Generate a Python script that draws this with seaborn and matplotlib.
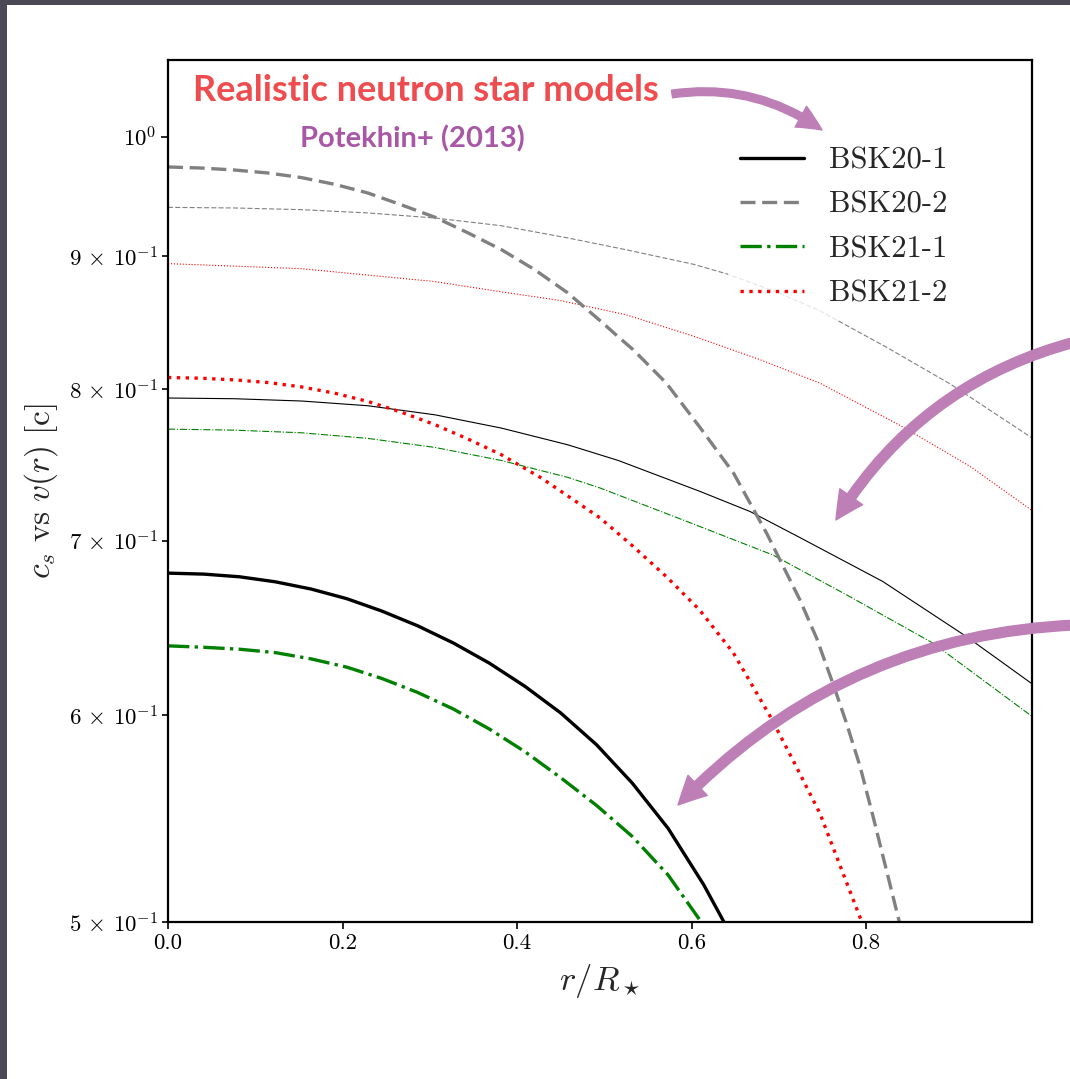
import numpy as np
import pandas as pd
import matplotlib
matplotlib.use("Agg")
import matplotlib.pyplot as plt
import seaborn as sns
from matplotlib.patches import FancyArrowPatch, Rectangle
from matplotlib.transforms import IdentityTransform
from matplotlib.ticker import FuncFormatter

# ---- sound-speed profiles (r / R_star, c_s in units of c) ----
# thick curves
r_bsk20_1 = [0.0, 0.041, 0.082, 0.123, 0.164, 0.205, 0.245, 0.286, 0.327, 0.368,
             0.409, 0.450, 0.491, 0.532, 0.573, 0.614, 0.637]
cs_bsk20_1 = [0.6803, 0.6797, 0.6781, 0.6751, 0.6708, 0.6651, 0.6579, 0.6494, 0.6396, 0.6284,
              0.6156, 0.6013, 0.5847, 0.5652, 0.5431, 0.5166, 0.5000]

r_bsk20_2 = [0.0, 0.038, 0.076, 0.115, 0.153, 0.191, 0.229, 0.267, 0.306, 0.344,
             0.382, 0.420, 0.458, 0.496, 0.516, 0.533, 0.571, 0.609, 0.648, 0.686,
             0.724, 0.743, 0.762, 0.777, 0.793, 0.808, 0.838]
cs_bsk20_2 = [0.9736, 0.9727, 0.9710, 0.9684, 0.9645, 0.9588, 0.9515, 0.9417, 0.9313, 0.9185,
              0.9051, 0.8893, 0.8712, 0.8496, 0.8380, 0.8286, 0.8045, 0.7741, 0.7431, 0.7046,
              0.6645, 0.6426, 0.6170, 0.5965, 0.5736, 0.5486, 0.5000]

r_bsk21_1 = [0.0, 0.041, 0.082, 0.123, 0.164, 0.205, 0.245, 0.286, 0.327, 0.368,
             0.409, 0.450, 0.491, 0.532, 0.573, 0.611]
cs_bsk21_1 = [0.6380, 0.6372, 0.6361, 0.6342, 0.6307, 0.6261, 0.6199, 0.6123, 0.6034, 0.5929,
              0.5811, 0.5679, 0.5542, 0.5392, 0.5212, 0.5000]

r_bsk21_2 = [0.0, 0.038, 0.076, 0.115, 0.153, 0.191, 0.229, 0.267, 0.306, 0.344,
             0.382, 0.428, 0.495, 0.533, 0.571, 0.609, 0.648, 0.690, 0.716, 0.747, 0.795]
cs_bsk21_2 = [0.8085, 0.8080, 0.8068, 0.8049, 0.8018, 0.7974, 0.7916, 0.7842, 0.7755, 0.7657,
              0.7552, 0.7398, 0.7143, 0.6965, 0.6782, 0.6586, 0.6339, 0.5995, 0.5769, 0.5503, 0.5000]

# thin curves
r_bsk20_1_b = [0.0, 0.076, 0.153, 0.229, 0.306, 0.382, 0.458, 0.516, 0.609, 0.667,
               0.724, 0.819, 0.915, 0.99]
cs_bsk20_1_b = [0.7940, 0.7935, 0.7919, 0.7886, 0.7823, 0.7732, 0.7619, 0.7514, 0.7313, 0.7183,
                0.7020, 0.6753, 0.6432, 0.6170]

r_bsk20_2_b = [0.0, 0.076, 0.153, 0.229, 0.306, 0.382, 0.458, 0.525, 0.602, 0.640,
               0.697, 0.747, 0.823, 0.896, 0.99]
cs_bsk20_2_b = [0.9395, 0.9390, 0.9376, 0.9349, 0.9307, 0.9244, 0.9145, 0.9050, 0.8935, 0.8860,
                0.8720, 0.8575, 0.8305, 0.8040, 0.7665]

r_bsk21_1_b = [0.0, 0.076, 0.153, 0.229, 0.306, 0.382, 0.458, 0.495, 0.590, 0.693,
               0.781, 0.877, 0.99]
cs_bsk21_1_b = [0.7725, 0.7718, 0.7700, 0.7662, 0.7601, 0.7514, 0.7403, 0.7334, 0.7130, 0.6913,
                0.6664, 0.6394, 0.5995]

r_bsk21_2_b = [0.0, 0.153, 0.305, 0.382, 0.449, 0.525, 0.602, 0.678, 0.747, 0.842,
               0.919, 0.99]
cs_bsk21_2_b = [0.894, 0.890, 0.880, 0.872, 0.8654, 0.8545, 0.8386, 0.8214, 0.8045, 0.774,
                0.7475, 0.719]

labels = ["BSK20-1", "BSK20-2", "BSK21-1", "BSK21-2"]
colors = ["black", "grey", "green", "red"]
styles = ["-", (0, (4.5, 2.0)), "-.", ":"]

thick = [(r_bsk20_1, cs_bsk20_1), (r_bsk20_2, cs_bsk20_2),
         (r_bsk21_1, cs_bsk21_1), (r_bsk21_2, cs_bsk21_2)]
thin = [(r_bsk20_1_b, cs_bsk20_1_b), (r_bsk20_2_b, cs_bsk20_2_b),
        (r_bsk21_1_b, cs_bsk21_1_b), (r_bsk21_2_b, cs_bsk21_2_b)]

sns.set_theme(style="ticks")
plt.rcParams.update({
    "font.family": "serif",
    "font.serif": ["cmr10", "DejaVu Serif"],
    "mathtext.fontset": "cm",
    "axes.formatter.use_mathtext": True,
    "axes.unicode_minus": False,
    "axes.linewidth": 1.6,
    "axes.edgecolor": "black",
    "xtick.color": "black",
    "ytick.color": "black",
})

W, H = 1070, 1079
fig = plt.figure(figsize=(W / 100, H / 100), dpi=100, facecolor="white")
ax = fig.add_axes([168 / W, 1 - 922 / H, (1032 - 168) / W, (922 - 60) / H])

for (r, cs), col, ls in zip(thin, colors, styles):
    df = pd.DataFrame({"r": r, "cs": cs})
    sns.lineplot(data=df, x="r", y="cs", ax=ax, color=col, linestyle=ls,
                 linewidth=0.8, estimator=None, sort=False)

for (r, cs), lab, col, ls in zip(thick, labels, colors, styles):
    df = pd.DataFrame({"r": r, "cs": cs})
    sns.lineplot(data=df, x="r", y="cs", ax=ax, color=col, linestyle=ls,
                 linewidth=2.4, estimator=None, sort=False, label=lab)

ax.set_yscale("log")
ax.set_ylim(0.5, 1.07)
ax.set_xlim(0.0, 0.99)
ax.set_xticks([0.0, 0.2, 0.4, 0.6, 0.8])
ax.set_xticklabels(["0.0", "0.2", "0.4", "0.6", "0.8"])


def sci_label(v, pos=None):
    e = int(np.floor(np.log10(v) + 1e-9))
    m = int(round(v / 10.0 ** e))
    if m == 1:
        return rf"$10^{{{e}}}$"
    return rf"${m}\,\times\,10^{{{e}}}$"


ax.yaxis.set_major_formatter(FuncFormatter(sci_label))
ax.yaxis.set_minor_formatter(FuncFormatter(sci_label))
ax.tick_params(axis="both", which="both", labelsize=16.5, direction="out", width=1.2)
ax.tick_params(axis="both", which="major", length=5)
ax.tick_params(axis="y", which="minor", length=4)

ax.set_xlabel(r"$r/R_\star$", fontsize=25, labelpad=6)
ax.set_ylabel(r"$c_s\ \mathrm{vs}\ v(r)\ [\mathrm{c}]$", fontsize=24, labelpad=6)

leg = ax.legend(loc="upper left", bbox_to_anchor=((728 - 168) / 864, 0.913),
                frameon=True, framealpha=0.8, facecolor="white", edgecolor="none",
                fontsize=22, handlelength=2.1, handletextpad=0.8, labelspacing=0.55,
                borderaxespad=0.0, borderpad=0.4)

# slide frame along top and left edges
fig.patches.append(Rectangle((0, 1 - 5 / H), 1, 5 / H, transform=fig.transFigure,
                             facecolor="#4b4953", edgecolor="none", zorder=10))
fig.patches.append(Rectangle((0, 0), 7 / W, 1, transform=fig.transFigure,
                             facecolor="#4b4953", edgecolor="none", zorder=10))

# headline and reference
fig.text(193 / W, 1 - 91 / H, "Realistic neutron star models", fontsize=26,
         fontweight="bold", family=["Lato", "DejaVu Sans"], color="#ee4c4e",
         ha="left", va="center")
fig.text(412 / W, 1 - 139 / H, "Potekhin+ (2013)", fontsize=21, fontweight="bold",
         family=["Lato", "DejaVu Sans"], color="#a757a6", ha="center", va="center")

# pointer arrows (pixel coordinates, origin at bottom-left)
arrow_col = "#bd7fb6"


def pointer(p0, p1, rad, tail=7.0, hw=20.0, hl=20.0):
    a = FancyArrowPatch((p0[0], H - p0[1]), (p1[0], H - p1[1]),
                        connectionstyle=f"arc3,rad={rad}",
                        arrowstyle=f"simple,head_length={hl},head_width={hw},tail_width={tail}",
                        color=arrow_col, transform=IdentityTransform(),
                        mutation_scale=1, shrinkA=0, shrinkB=0, zorder=9)
    fig.patches.append(a)


pointer((672, 94), (822, 130), -0.2, tail=5.5, hw=17, hl=18)
pointer((1075, 342), (836, 520), 0.2)
pointer((1075, 625), (678, 805), 0.2)

fig.savefig("out.png", dpi=100, facecolor="white")
